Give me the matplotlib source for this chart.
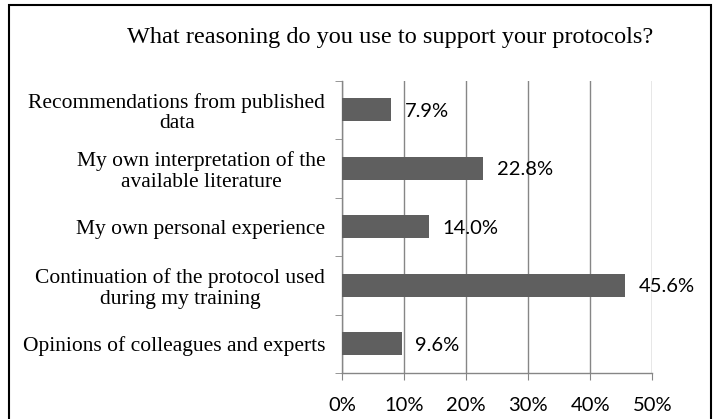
import numpy as np
from matplotlib import pyplot as plt
from matplotlib.patches import Rectangle
from matplotlib.ticker import FuncFormatter, FixedLocator

# Data (bottom to top, as drawn)
categories = [
    "Opinions of colleagues and experts",
    "Continuation of the protocol used\nduring my training",
    "My own personal experience",
    "My own interpretation of the\navailable literature",
    "Recommendations from published\ndata",
]
shares = [0.096, 0.456, 0.140, 0.228, 0.079]
x_ticks = [0.0, 0.1, 0.2, 0.3, 0.4, 0.5]

title_text = "What reasoning do you use to support your protocols?"

serif = ['Liberation Serif', 'DejaVu Serif']
sans = ['Lato', 'DejaVu Sans']

fig = plt.figure(figsize=(7.13, 4.19), dpi=100)
ax = fig.add_axes([342 / 713, 1 - 373 / 419, (652.3 - 342) / 713, (373 - 80.5) / 419])

y_pos = np.arange(len(categories))
ax.barh(y_pos, shares, height=0.40, color='#5f5f5f', zorder=3)

# Data labels
for y, v in zip(y_pos, shares):
    ax.annotate(f"{v * 100:.1f}%", (v, y), xytext=(10, -1), textcoords='offset points',
                ha='left', va='center', fontsize=14.5, family=sans, color='black', zorder=4)

ax.set_xlim(0, 0.5)
ax.set_ylim(-0.5, len(categories) - 0.5)
ax.set_xticks(x_ticks)
ax.xaxis.set_major_formatter(FuncFormatter(lambda v, p: f"{v * 100:.0f}%"))
for lbl in ax.get_xticklabels():
    lbl.set_family(sans)
    lbl.set_fontsize(14.5)

ax.set_yticks(y_pos)
ax.set_yticklabels(categories, family=serif, fontsize=15.5, ha='right',
                   multialignment='center', linespacing=1.12)
ax.yaxis.set_minor_locator(FixedLocator(np.arange(-0.5, len(categories), 1.0)))
ax.tick_params(axis='y', which='major', length=0, pad=12)
ax.tick_params(axis='y', which='minor', length=5, color='#868686', direction='out')
ax.tick_params(axis='x', length=5, color='#868686', direction='out', pad=12)

ax.grid(True, axis='x', color='#868686', linewidth=1, zorder=0)
for side in ['top', 'right']:
    ax.spines[side].set_visible(False)
for side in ['left', 'bottom']:
    ax.spines[side].set_color('#868686')
    ax.spines[side].set_linewidth(1)

fig.text(390 / 713, 1 - 38 / 419, title_text, ha='center', va='center',
         fontsize=17.5, family=serif)

# Outer chart border
fig.patches.append(Rectangle((9 / 713, -0.05), (710.5 - 9) / 713, 1.05 - 5 / 419,
                             transform=fig.transFigure, fill=False, edgecolor='black',
                             linewidth=1.5))

fig.savefig("out.png", dpi=100)
